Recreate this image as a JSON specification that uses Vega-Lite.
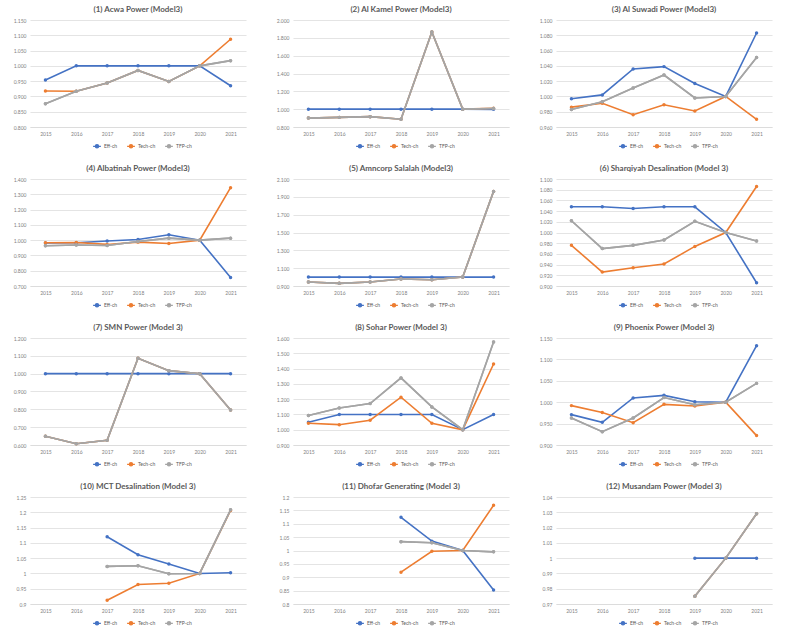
{
"$schema":"https://vega.github.io/schema/vega-lite/v6.json",
"padding":{"left":13,"top":6,"right":5,"bottom":14},
"background":"white",
"datasets":{"d":[
{"p":1,"y":"2015","s":"Eff-ch","v":0.954},{"p":1,"y":"2016","s":"Eff-ch","v":1},{"p":1,"y":"2017","s":"Eff-ch","v":1},{"p":1,"y":"2018","s":"Eff-ch","v":1},{"p":1,"y":"2019","s":"Eff-ch","v":1},{"p":1,"y":"2020","s":"Eff-ch","v":1},{"p":1,"y":"2021","s":"Eff-ch","v":0.935},
{"p":1,"y":"2015","s":"Tech-ch","v":0.918},{"p":1,"y":"2016","s":"Tech-ch","v":0.917},{"p":1,"y":"2017","s":"Tech-ch","v":0.944},{"p":1,"y":"2018","s":"Tech-ch","v":0.985},{"p":1,"y":"2019","s":"Tech-ch","v":0.949},{"p":1,"y":"2020","s":"Tech-ch","v":1},{"p":1,"y":"2021","s":"Tech-ch","v":1.087},
{"p":1,"y":"2015","s":"TFP-ch","v":0.876},{"p":1,"y":"2016","s":"TFP-ch","v":0.917},{"p":1,"y":"2017","s":"TFP-ch","v":0.944},{"p":1,"y":"2018","s":"TFP-ch","v":0.985},{"p":1,"y":"2019","s":"TFP-ch","v":0.949},{"p":1,"y":"2020","s":"TFP-ch","v":1},{"p":1,"y":"2021","s":"TFP-ch","v":1.017},

{"p":2,"y":"2015","s":"Eff-ch","v":1},{"p":2,"y":"2016","s":"Eff-ch","v":1},{"p":2,"y":"2017","s":"Eff-ch","v":1},{"p":2,"y":"2018","s":"Eff-ch","v":1},{"p":2,"y":"2019","s":"Eff-ch","v":1},{"p":2,"y":"2020","s":"Eff-ch","v":1},{"p":2,"y":"2021","s":"Eff-ch","v":0.998},
{"p":2,"y":"2015","s":"Tech-ch","v":0.9},{"p":2,"y":"2016","s":"Tech-ch","v":0.908},{"p":2,"y":"2017","s":"Tech-ch","v":0.916},{"p":2,"y":"2018","s":"Tech-ch","v":0.887},{"p":2,"y":"2019","s":"Tech-ch","v":1.866},{"p":2,"y":"2020","s":"Tech-ch","v":1},{"p":2,"y":"2021","s":"Tech-ch","v":1.01},
{"p":2,"y":"2015","s":"TFP-ch","v":0.9},{"p":2,"y":"2016","s":"TFP-ch","v":0.908},{"p":2,"y":"2017","s":"TFP-ch","v":0.916},{"p":2,"y":"2018","s":"TFP-ch","v":0.887},{"p":2,"y":"2019","s":"TFP-ch","v":1.866},{"p":2,"y":"2020","s":"TFP-ch","v":1},{"p":2,"y":"2021","s":"TFP-ch","v":1.008},

{"p":3,"y":"2015","s":"Eff-ch","v":0.997},{"p":3,"y":"2016","s":"Eff-ch","v":1.002},{"p":3,"y":"2017","s":"Eff-ch","v":1.036},{"p":3,"y":"2018","s":"Eff-ch","v":1.039},{"p":3,"y":"2019","s":"Eff-ch","v":1.017},{"p":3,"y":"2020","s":"Eff-ch","v":1},{"p":3,"y":"2021","s":"Eff-ch","v":1.083},
{"p":3,"y":"2015","s":"Tech-ch","v":0.986},{"p":3,"y":"2016","s":"Tech-ch","v":0.991},{"p":3,"y":"2017","s":"Tech-ch","v":0.976},{"p":3,"y":"2018","s":"Tech-ch","v":0.989},{"p":3,"y":"2019","s":"Tech-ch","v":0.981},{"p":3,"y":"2020","s":"Tech-ch","v":1},{"p":3,"y":"2021","s":"Tech-ch","v":0.97},
{"p":3,"y":"2015","s":"TFP-ch","v":0.983},{"p":3,"y":"2016","s":"TFP-ch","v":0.993},{"p":3,"y":"2017","s":"TFP-ch","v":1.011},{"p":3,"y":"2018","s":"TFP-ch","v":1.028},{"p":3,"y":"2019","s":"TFP-ch","v":0.998},{"p":3,"y":"2020","s":"TFP-ch","v":1},{"p":3,"y":"2021","s":"TFP-ch","v":1.051},

{"p":4,"y":"2015","s":"Eff-ch","v":0.981},{"p":4,"y":"2016","s":"Eff-ch","v":0.983},{"p":4,"y":"2017","s":"Eff-ch","v":0.994},{"p":4,"y":"2018","s":"Eff-ch","v":1.004},{"p":4,"y":"2019","s":"Eff-ch","v":1.035},{"p":4,"y":"2020","s":"Eff-ch","v":1},{"p":4,"y":"2021","s":"Eff-ch","v":0.756},
{"p":4,"y":"2015","s":"Tech-ch","v":0.983},{"p":4,"y":"2016","s":"Tech-ch","v":0.985},{"p":4,"y":"2017","s":"Tech-ch","v":0.972},{"p":4,"y":"2018","s":"Tech-ch","v":0.987},{"p":4,"y":"2019","s":"Tech-ch","v":0.978},{"p":4,"y":"2020","s":"Tech-ch","v":1},{"p":4,"y":"2021","s":"Tech-ch","v":1.343},
{"p":4,"y":"2015","s":"TFP-ch","v":0.963},{"p":4,"y":"2016","s":"TFP-ch","v":0.968},{"p":4,"y":"2017","s":"TFP-ch","v":0.965},{"p":4,"y":"2018","s":"TFP-ch","v":0.991},{"p":4,"y":"2019","s":"TFP-ch","v":1.013},{"p":4,"y":"2020","s":"TFP-ch","v":1},{"p":4,"y":"2021","s":"TFP-ch","v":1.013},

{"p":5,"y":"2015","s":"Eff-ch","v":1},{"p":5,"y":"2016","s":"Eff-ch","v":1},{"p":5,"y":"2017","s":"Eff-ch","v":1},{"p":5,"y":"2018","s":"Eff-ch","v":1},{"p":5,"y":"2019","s":"Eff-ch","v":1},{"p":5,"y":"2020","s":"Eff-ch","v":1},{"p":5,"y":"2021","s":"Eff-ch","v":1},
{"p":5,"y":"2015","s":"Tech-ch","v":0.945},{"p":5,"y":"2016","s":"Tech-ch","v":0.93},{"p":5,"y":"2017","s":"Tech-ch","v":0.945},{"p":5,"y":"2018","s":"Tech-ch","v":0.978},{"p":5,"y":"2019","s":"Tech-ch","v":0.97},{"p":5,"y":"2020","s":"Tech-ch","v":1},{"p":5,"y":"2021","s":"Tech-ch","v":1.961},
{"p":5,"y":"2015","s":"TFP-ch","v":0.945},{"p":5,"y":"2016","s":"TFP-ch","v":0.93},{"p":5,"y":"2017","s":"TFP-ch","v":0.945},{"p":5,"y":"2018","s":"TFP-ch","v":0.978},{"p":5,"y":"2019","s":"TFP-ch","v":0.97},{"p":5,"y":"2020","s":"TFP-ch","v":1},{"p":5,"y":"2021","s":"TFP-ch","v":1.961},

{"p":6,"y":"2015","s":"Eff-ch","v":1.048},{"p":6,"y":"2016","s":"Eff-ch","v":1.048},{"p":6,"y":"2017","s":"Eff-ch","v":1.045},{"p":6,"y":"2018","s":"Eff-ch","v":1.048},{"p":6,"y":"2019","s":"Eff-ch","v":1.048},{"p":6,"y":"2020","s":"Eff-ch","v":1},{"p":6,"y":"2021","s":"Eff-ch","v":0.906},
{"p":6,"y":"2015","s":"Tech-ch","v":0.976},{"p":6,"y":"2016","s":"Tech-ch","v":0.926},{"p":6,"y":"2017","s":"Tech-ch","v":0.934},{"p":6,"y":"2018","s":"Tech-ch","v":0.941},{"p":6,"y":"2019","s":"Tech-ch","v":0.974},{"p":6,"y":"2020","s":"Tech-ch","v":1},{"p":6,"y":"2021","s":"Tech-ch","v":1.086},
{"p":6,"y":"2015","s":"TFP-ch","v":1.022},{"p":6,"y":"2016","s":"TFP-ch","v":0.97},{"p":6,"y":"2017","s":"TFP-ch","v":0.976},{"p":6,"y":"2018","s":"TFP-ch","v":0.986},{"p":6,"y":"2019","s":"TFP-ch","v":1.021},{"p":6,"y":"2020","s":"TFP-ch","v":1},{"p":6,"y":"2021","s":"TFP-ch","v":0.984},

{"p":7,"y":"2015","s":"Eff-ch","v":1},{"p":7,"y":"2016","s":"Eff-ch","v":1},{"p":7,"y":"2017","s":"Eff-ch","v":1},{"p":7,"y":"2018","s":"Eff-ch","v":1},{"p":7,"y":"2019","s":"Eff-ch","v":1},{"p":7,"y":"2020","s":"Eff-ch","v":1},{"p":7,"y":"2021","s":"Eff-ch","v":1},
{"p":7,"y":"2015","s":"Tech-ch","v":0.649},{"p":7,"y":"2016","s":"Tech-ch","v":0.607},{"p":7,"y":"2017","s":"Tech-ch","v":0.626},{"p":7,"y":"2018","s":"Tech-ch","v":1.086},{"p":7,"y":"2019","s":"Tech-ch","v":1.017},{"p":7,"y":"2020","s":"Tech-ch","v":1},{"p":7,"y":"2021","s":"Tech-ch","v":0.796},
{"p":7,"y":"2015","s":"TFP-ch","v":0.649},{"p":7,"y":"2016","s":"TFP-ch","v":0.607},{"p":7,"y":"2017","s":"TFP-ch","v":0.626},{"p":7,"y":"2018","s":"TFP-ch","v":1.086},{"p":7,"y":"2019","s":"TFP-ch","v":1.017},{"p":7,"y":"2020","s":"TFP-ch","v":1},{"p":7,"y":"2021","s":"TFP-ch","v":0.796},

{"p":8,"y":"2015","s":"Eff-ch","v":1.049},{"p":8,"y":"2016","s":"Eff-ch","v":1.1},{"p":8,"y":"2017","s":"Eff-ch","v":1.1},{"p":8,"y":"2018","s":"Eff-ch","v":1.1},{"p":8,"y":"2019","s":"Eff-ch","v":1.1},{"p":8,"y":"2020","s":"Eff-ch","v":1},{"p":8,"y":"2021","s":"Eff-ch","v":1.1},
{"p":8,"y":"2015","s":"Tech-ch","v":1.042},{"p":8,"y":"2016","s":"Tech-ch","v":1.033},{"p":8,"y":"2017","s":"Tech-ch","v":1.062},{"p":8,"y":"2018","s":"Tech-ch","v":1.213},{"p":8,"y":"2019","s":"Tech-ch","v":1.042},{"p":8,"y":"2020","s":"Tech-ch","v":1},{"p":8,"y":"2021","s":"Tech-ch","v":1.43},
{"p":8,"y":"2015","s":"TFP-ch","v":1.093},{"p":8,"y":"2016","s":"TFP-ch","v":1.142},{"p":8,"y":"2017","s":"TFP-ch","v":1.171},{"p":8,"y":"2018","s":"TFP-ch","v":1.339},{"p":8,"y":"2019","s":"TFP-ch","v":1.149},{"p":8,"y":"2020","s":"TFP-ch","v":1},{"p":8,"y":"2021","s":"TFP-ch","v":1.574},

{"p":9,"y":"2015","s":"Eff-ch","v":0.971},{"p":9,"y":"2016","s":"Eff-ch","v":0.953},{"p":9,"y":"2017","s":"Eff-ch","v":1.01},{"p":9,"y":"2018","s":"Eff-ch","v":1.016},{"p":9,"y":"2019","s":"Eff-ch","v":1.001},{"p":9,"y":"2020","s":"Eff-ch","v":1},{"p":9,"y":"2021","s":"Eff-ch","v":1.132},
{"p":9,"y":"2015","s":"Tech-ch","v":0.992},{"p":9,"y":"2016","s":"Tech-ch","v":0.976},{"p":9,"y":"2017","s":"Tech-ch","v":0.952},{"p":9,"y":"2018","s":"Tech-ch","v":0.995},{"p":9,"y":"2019","s":"Tech-ch","v":0.991},{"p":9,"y":"2020","s":"Tech-ch","v":1},{"p":9,"y":"2021","s":"Tech-ch","v":0.922},
{"p":9,"y":"2015","s":"TFP-ch","v":0.963},{"p":9,"y":"2016","s":"TFP-ch","v":0.931},{"p":9,"y":"2017","s":"TFP-ch","v":0.963},{"p":9,"y":"2018","s":"TFP-ch","v":1.011},{"p":9,"y":"2019","s":"TFP-ch","v":0.994},{"p":9,"y":"2020","s":"TFP-ch","v":1},{"p":9,"y":"2021","s":"TFP-ch","v":1.044},

{"p":10,"y":"2017","s":"Eff-ch","v":1.12},{"p":10,"y":"2018","s":"Eff-ch","v":1.061},{"p":10,"y":"2019","s":"Eff-ch","v":1.031},{"p":10,"y":"2020","s":"Eff-ch","v":1},{"p":10,"y":"2021","s":"Eff-ch","v":1.002},
{"p":10,"y":"2017","s":"Tech-ch","v":0.912},{"p":10,"y":"2018","s":"Tech-ch","v":0.964},{"p":10,"y":"2019","s":"Tech-ch","v":0.968},{"p":10,"y":"2020","s":"Tech-ch","v":1},{"p":10,"y":"2021","s":"Tech-ch","v":1.206},
{"p":10,"y":"2017","s":"TFP-ch","v":1.023},{"p":10,"y":"2018","s":"TFP-ch","v":1.025},{"p":10,"y":"2019","s":"TFP-ch","v":0.999},{"p":10,"y":"2020","s":"TFP-ch","v":1},{"p":10,"y":"2021","s":"TFP-ch","v":1.208},

{"p":11,"y":"2018","s":"Eff-ch","v":1.124},{"p":11,"y":"2019","s":"Eff-ch","v":1.035},{"p":11,"y":"2020","s":"Eff-ch","v":1},{"p":11,"y":"2021","s":"Eff-ch","v":0.852},
{"p":11,"y":"2018","s":"Tech-ch","v":0.919},{"p":11,"y":"2019","s":"Tech-ch","v":0.997},{"p":11,"y":"2020","s":"Tech-ch","v":1},{"p":11,"y":"2021","s":"Tech-ch","v":1.169},
{"p":11,"y":"2018","s":"TFP-ch","v":1.033},{"p":11,"y":"2019","s":"TFP-ch","v":1.029},{"p":11,"y":"2020","s":"TFP-ch","v":1},{"p":11,"y":"2021","s":"TFP-ch","v":0.995},

{"p":12,"y":"2019","s":"Eff-ch","v":1},{"p":12,"y":"2020","s":"Eff-ch","v":1},{"p":12,"y":"2021","s":"Eff-ch","v":1},
{"p":12,"y":"2019","s":"Tech-ch","v":0.975},{"p":12,"y":"2020","s":"Tech-ch","v":1},{"p":12,"y":"2021","s":"Tech-ch","v":1.029},
{"p":12,"y":"2019","s":"TFP-ch","v":0.975},{"p":12,"y":"2020","s":"TFP-ch","v":1},{"p":12,"y":"2021","s":"TFP-ch","v":1.029}
]},
"data":{"name":"d"},
"columns":3,
"spacing":{"row":14,"column":30},
"resolve":{"scale":{"y":"independent","x":"independent"},"legend":{"color":"independent"}},
"concat":[
{"title":"(1) Acwa Power (Model3)","width":216,"height":107,"transform":[{"filter":"datum.p==1"}],
"layer":[{"mark":{"type":"line","strokeWidth":1.6,"point":{"filled":true,"size":12,"opacity":1}}},{"transform":[{"filter":"datum.s=='TFP-ch'"}],"mark":{"type":"line","strokeWidth":1.6,"point":{"filled":true,"size":12,"opacity":1}}}],
"encoding":{"x":{"field":"y","type":"ordinal","scale":{"type":"point","padding":0.5,"domain":["2015","2016","2017","2018","2019","2020","2021"]},"axis":{"title":null,"labelAngle":0}},
"y":{"field":"v","type":"quantitative","scale":{"domain":[0.8,1.15],"nice":false,"zero":false},"axis":{"title":null,"values":[0.8,0.85,0.9,0.95,1,1.05,1.1,1.15],"format":".3f"}},
"color":{"field":"s","type":"nominal","scale":{"domain":["Eff-ch","Tech-ch","TFP-ch"],"range":["#4472C4","#ED7D31","#A5A5A5"]},"legend":{"title":null}}}},
{"title":"(2) Al Kamel Power (Model3)","width":216,"height":107,"transform":[{"filter":"datum.p==2"}],
"layer":[{"mark":{"type":"line","strokeWidth":1.6,"point":{"filled":true,"size":12,"opacity":1}}},{"transform":[{"filter":"datum.s=='TFP-ch'"}],"mark":{"type":"line","strokeWidth":1.6,"point":{"filled":true,"size":12,"opacity":1}}}],
"encoding":{"x":{"field":"y","type":"ordinal","scale":{"type":"point","padding":0.5,"domain":["2015","2016","2017","2018","2019","2020","2021"]},"axis":{"title":null,"labelAngle":0}},
"y":{"field":"v","type":"quantitative","scale":{"domain":[0.8,2.0],"nice":false,"zero":false},"axis":{"title":null,"values":[0.8,1,1.2,1.4,1.6,1.8,2],"format":".3f"}},
"color":{"field":"s","type":"nominal","scale":{"domain":["Eff-ch","Tech-ch","TFP-ch"],"range":["#4472C4","#ED7D31","#A5A5A5"]},"legend":{"title":null}}}},
{"title":"(3) Al Suwadi Power (Model3)","width":216,"height":107,"transform":[{"filter":"datum.p==3"}],
"layer":[{"mark":{"type":"line","strokeWidth":1.6,"point":{"filled":true,"size":12,"opacity":1}}},{"transform":[{"filter":"datum.s=='TFP-ch'"}],"mark":{"type":"line","strokeWidth":1.6,"point":{"filled":true,"size":12,"opacity":1}}}],
"encoding":{"x":{"field":"y","type":"ordinal","scale":{"type":"point","padding":0.5,"domain":["2015","2016","2017","2018","2019","2020","2021"]},"axis":{"title":null,"labelAngle":0}},
"y":{"field":"v","type":"quantitative","scale":{"domain":[0.96,1.1],"nice":false,"zero":false},"axis":{"title":null,"values":[0.96,0.98,1,1.02,1.04,1.06,1.08,1.1],"format":".3f"}},
"color":{"field":"s","type":"nominal","scale":{"domain":["Eff-ch","Tech-ch","TFP-ch"],"range":["#4472C4","#ED7D31","#A5A5A5"]},"legend":{"title":null}}}},
{"title":"(4) Albatinah Power (Model3)","width":216,"height":107,"transform":[{"filter":"datum.p==4"}],
"layer":[{"mark":{"type":"line","strokeWidth":1.6,"point":{"filled":true,"size":12,"opacity":1}}},{"transform":[{"filter":"datum.s=='TFP-ch'"}],"mark":{"type":"line","strokeWidth":1.6,"point":{"filled":true,"size":12,"opacity":1}}}],
"encoding":{"x":{"field":"y","type":"ordinal","scale":{"type":"point","padding":0.5,"domain":["2015","2016","2017","2018","2019","2020","2021"]},"axis":{"title":null,"labelAngle":0}},
"y":{"field":"v","type":"quantitative","scale":{"domain":[0.7,1.4],"nice":false,"zero":false},"axis":{"title":null,"values":[0.7,0.8,0.9,1,1.1,1.2,1.3,1.4],"format":".3f"}},
"color":{"field":"s","type":"nominal","scale":{"domain":["Eff-ch","Tech-ch","TFP-ch"],"range":["#4472C4","#ED7D31","#A5A5A5"]},"legend":{"title":null}}}},
{"title":"(5) Amncorp Salalah (Model3)","width":216,"height":107,"transform":[{"filter":"datum.p==5"}],
"layer":[{"mark":{"type":"line","strokeWidth":1.6,"point":{"filled":true,"size":12,"opacity":1}}},{"transform":[{"filter":"datum.s=='TFP-ch'"}],"mark":{"type":"line","strokeWidth":1.6,"point":{"filled":true,"size":12,"opacity":1}}}],
"encoding":{"x":{"field":"y","type":"ordinal","scale":{"type":"point","padding":0.5,"domain":["2015","2016","2017","2018","2019","2020","2021"]},"axis":{"title":null,"labelAngle":0}},
"y":{"field":"v","type":"quantitative","scale":{"domain":[0.9,2.1],"nice":false,"zero":false},"axis":{"title":null,"values":[0.9,1.1,1.3,1.5,1.7,1.9,2.1],"format":".3f"}},
"color":{"field":"s","type":"nominal","scale":{"domain":["Eff-ch","Tech-ch","TFP-ch"],"range":["#4472C4","#ED7D31","#A5A5A5"]},"legend":{"title":null}}}},
{"title":"(6) Sharqiyah Desalination (Model 3)","width":216,"height":107,"transform":[{"filter":"datum.p==6"}],
"layer":[{"mark":{"type":"line","strokeWidth":1.6,"point":{"filled":true,"size":12,"opacity":1}}},{"transform":[{"filter":"datum.s=='TFP-ch'"}],"mark":{"type":"line","strokeWidth":1.6,"point":{"filled":true,"size":12,"opacity":1}}}],
"encoding":{"x":{"field":"y","type":"ordinal","scale":{"type":"point","padding":0.5,"domain":["2015","2016","2017","2018","2019","2020","2021"]},"axis":{"title":null,"labelAngle":0}},
"y":{"field":"v","type":"quantitative","scale":{"domain":[0.9,1.1],"nice":false,"zero":false},"axis":{"title":null,"values":[0.9,0.92,0.94,0.96,0.98,1,1.02,1.04,1.06,1.08,1.1],"format":".3f"}},
"color":{"field":"s","type":"nominal","scale":{"domain":["Eff-ch","Tech-ch","TFP-ch"],"range":["#4472C4","#ED7D31","#A5A5A5"]},"legend":{"title":null}}}},
{"title":"(7) SMN Power (Model 3)","width":216,"height":107,"transform":[{"filter":"datum.p==7"}],
"layer":[{"mark":{"type":"line","strokeWidth":1.6,"point":{"filled":true,"size":12,"opacity":1}}},{"transform":[{"filter":"datum.s=='TFP-ch'"}],"mark":{"type":"line","strokeWidth":1.6,"point":{"filled":true,"size":12,"opacity":1}}}],
"encoding":{"x":{"field":"y","type":"ordinal","scale":{"type":"point","padding":0.5,"domain":["2015","2016","2017","2018","2019","2020","2021"]},"axis":{"title":null,"labelAngle":0}},
"y":{"field":"v","type":"quantitative","scale":{"domain":[0.6,1.2],"nice":false,"zero":false},"axis":{"title":null,"values":[0.6,0.7,0.8,0.9,1,1.1,1.2],"format":".3f"}},
"color":{"field":"s","type":"nominal","scale":{"domain":["Eff-ch","Tech-ch","TFP-ch"],"range":["#4472C4","#ED7D31","#A5A5A5"]},"legend":{"title":null}}}},
{"title":"(8) Sohar Power (Model 3)","width":216,"height":107,"transform":[{"filter":"datum.p==8"}],
"layer":[{"mark":{"type":"line","strokeWidth":1.6,"point":{"filled":true,"size":12,"opacity":1}}},{"transform":[{"filter":"datum.s=='TFP-ch'"}],"mark":{"type":"line","strokeWidth":1.6,"point":{"filled":true,"size":12,"opacity":1}}}],
"encoding":{"x":{"field":"y","type":"ordinal","scale":{"type":"point","padding":0.5,"domain":["2015","2016","2017","2018","2019","2020","2021"]},"axis":{"title":null,"labelAngle":0}},
"y":{"field":"v","type":"quantitative","scale":{"domain":[0.9,1.6],"nice":false,"zero":false},"axis":{"title":null,"values":[0.9,1,1.1,1.2,1.3,1.4,1.5,1.6],"format":".3f"}},
"color":{"field":"s","type":"nominal","scale":{"domain":["Eff-ch","Tech-ch","TFP-ch"],"range":["#4472C4","#ED7D31","#A5A5A5"]},"legend":{"title":null}}}},
{"title":"(9) Phoenix Power (Model 3)","width":216,"height":107,"transform":[{"filter":"datum.p==9"}],
"layer":[{"mark":{"type":"line","strokeWidth":1.6,"point":{"filled":true,"size":12,"opacity":1}}},{"transform":[{"filter":"datum.s=='TFP-ch'"}],"mark":{"type":"line","strokeWidth":1.6,"point":{"filled":true,"size":12,"opacity":1}}}],
"encoding":{"x":{"field":"y","type":"ordinal","scale":{"type":"point","padding":0.5,"domain":["2015","2016","2017","2018","2019","2020","2021"]},"axis":{"title":null,"labelAngle":0}},
"y":{"field":"v","type":"quantitative","scale":{"domain":[0.9,1.15],"nice":false,"zero":false},"axis":{"title":null,"values":[0.9,0.95,1,1.05,1.1,1.15],"format":".3f"}},
"color":{"field":"s","type":"nominal","scale":{"domain":["Eff-ch","Tech-ch","TFP-ch"],"range":["#4472C4","#ED7D31","#A5A5A5"]},"legend":{"title":null}}}},
{"title":"(10) MCT Desalination (Model 3)","width":216,"height":107,"transform":[{"filter":"datum.p==10"}],
"layer":[{"mark":{"type":"line","strokeWidth":1.6,"point":{"filled":true,"size":12,"opacity":1}}},{"transform":[{"filter":"datum.s=='TFP-ch'"}],"mark":{"type":"line","strokeWidth":1.6,"point":{"filled":true,"size":12,"opacity":1}}}],
"encoding":{"x":{"field":"y","type":"ordinal","scale":{"type":"point","padding":0.5,"domain":["2015","2016","2017","2018","2019","2020","2021"]},"axis":{"title":null,"labelAngle":0}},
"y":{"field":"v","type":"quantitative","scale":{"domain":[0.9,1.25],"nice":false,"zero":false},"axis":{"title":null,"values":[0.9,0.95,1,1.05,1.1,1.15,1.2,1.25],"format":"~g"}},
"color":{"field":"s","type":"nominal","scale":{"domain":["Eff-ch","Tech-ch","TFP-ch"],"range":["#4472C4","#ED7D31","#A5A5A5"]},"legend":{"title":null}}}},
{"title":"(11)  Dhofar Generating (Model 3)","width":216,"height":107,"transform":[{"filter":"datum.p==11"}],
"layer":[{"mark":{"type":"line","strokeWidth":1.6,"point":{"filled":true,"size":12,"opacity":1}}},{"transform":[{"filter":"datum.s=='TFP-ch'"}],"mark":{"type":"line","strokeWidth":1.6,"point":{"filled":true,"size":12,"opacity":1}}}],
"encoding":{"x":{"field":"y","type":"ordinal","scale":{"type":"point","padding":0.5,"domain":["2015","2016","2017","2018","2019","2020","2021"]},"axis":{"title":null,"labelAngle":0}},
"y":{"field":"v","type":"quantitative","scale":{"domain":[0.8,1.2],"nice":false,"zero":false},"axis":{"title":null,"values":[0.8,0.85,0.9,0.95,1,1.05,1.1,1.15,1.2],"format":"~g"}},
"color":{"field":"s","type":"nominal","scale":{"domain":["Eff-ch","Tech-ch","TFP-ch"],"range":["#4472C4","#ED7D31","#A5A5A5"]},"legend":{"title":null}}}},
{"title":"(12) Musandam Power (Model 3)","width":216,"height":107,"transform":[{"filter":"datum.p==12"}],
"layer":[{"mark":{"type":"line","strokeWidth":1.6,"point":{"filled":true,"size":12,"opacity":1}}},{"transform":[{"filter":"datum.s=='TFP-ch'"}],"mark":{"type":"line","strokeWidth":1.6,"point":{"filled":true,"size":12,"opacity":1}}}],
"encoding":{"x":{"field":"y","type":"ordinal","scale":{"type":"point","padding":0.5,"domain":["2015","2016","2017","2018","2019","2020","2021"]},"axis":{"title":null,"labelAngle":0}},
"y":{"field":"v","type":"quantitative","scale":{"domain":[0.97,1.04],"nice":false,"zero":false},"axis":{"title":null,"values":[0.97,0.98,0.99,1,1.01,1.02,1.03,1.04],"format":"~g"}},
"color":{"field":"s","type":"nominal","scale":{"domain":["Eff-ch","Tech-ch","TFP-ch"],"range":["#4472C4","#ED7D31","#A5A5A5"]},"legend":{"title":null}}}}
],
"config":{
"font":"Lato",
"view":{"stroke":null},
"title":{"fontSize":8,"color":"#595959","font":"Lato","fontWeight":"bold","offset":4},
"axis":{"labelFontSize":5,"labelColor":"#7f7f7f","labelFont":"Lato","ticks":false,"domain":false,"gridColor":"#d9d9d9","gridWidth":0.7,"labelPadding":4},
"axisX":{"grid":false,"domain":true,"domainColor":"#d9d9d9","domainWidth":0.7},
"legend":{"orient":"none","legendX":62,"legendY":121,"direction":"horizontal","labelFontSize":5,"labelColor":"#595959","symbolType":"M-1,0H1M0.4,0A0.4,0.4 0 1,1 -0.4,0A0.4,0.4 0 1,1 0.4,0","symbolSize":60,"symbolStrokeWidth":1.4,"padding":0,"columnPadding":6,"labelOffset":2}
}
}
